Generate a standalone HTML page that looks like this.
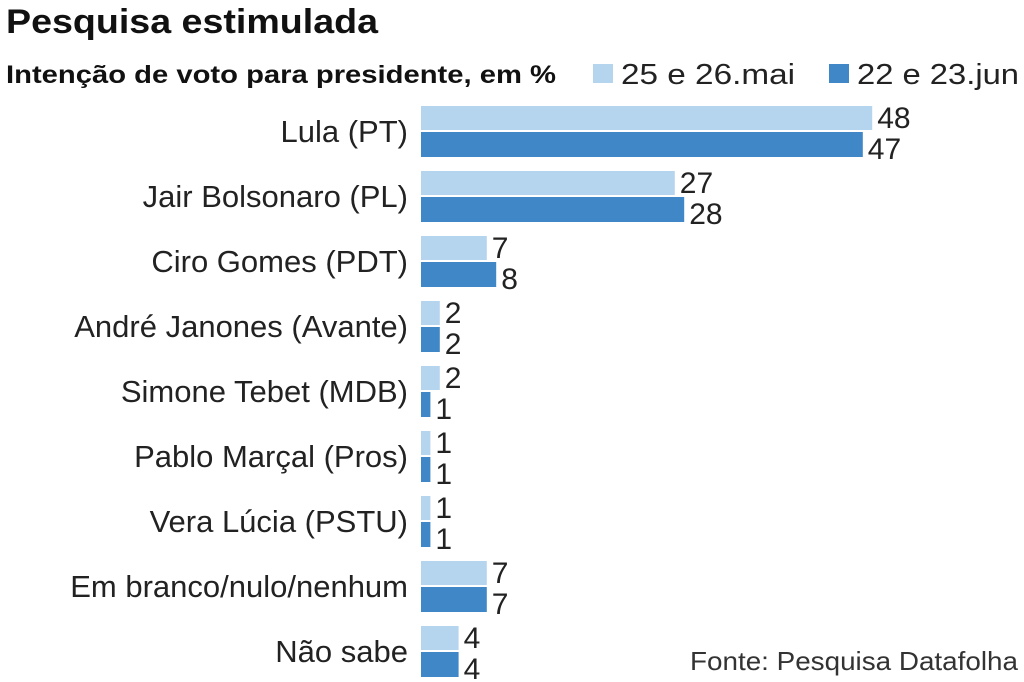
<!DOCTYPE html>
<html><head><meta charset="utf-8"><style>
body{margin:0;background:#fff;font-family:"Liberation Sans",sans-serif;}
svg{display:block}
</style></head><body>
<svg width="1024" height="682">
<text x="6" y="33" font-size="34" font-weight="bold" fill="#111" textLength="372" lengthAdjust="spacingAndGlyphs">Pesquisa estimulada</text>
<text x="6" y="83" font-size="25" font-weight="bold" fill="#111" textLength="550" lengthAdjust="spacingAndGlyphs">Intenção de voto para presidente, em %</text>
<rect x="593" y="64" width="20" height="19" fill="#b5d5ef"/>
<text x="621" y="84" font-size="29" fill="#222" textLength="174" lengthAdjust="spacingAndGlyphs">25 e 26.mai</text>
<rect x="829" y="64" width="20" height="19" fill="#3f87c7"/>
<text x="857" y="84" font-size="29" fill="#222" textLength="162" lengthAdjust="spacingAndGlyphs">22 e 23.jun</text>
<g id="bars"></g>
<text x="690" y="670" font-size="26" fill="#333" textLength="328" lengthAdjust="spacingAndGlyphs">Fonte: Pesquisa Datafolha</text>
</svg>
<script>
const categories=["Lula (PT)","Jair Bolsonaro (PL)","Ciro Gomes (PDT)","André Janones (Avante)","Simone Tebet (MDB)","Pablo Marçal (Pros)","Vera Lúcia (PSTU)","Em branco/nulo/nenhum","Não sabe"];
const maiValues=[48,27,7,2,2,1,1,7,4];
const junValues=[47,28,8,2,1,1,1,7,4];
const x0=421, scale=9.4, y0=106, pitch=65, bh=24;
const xs=v=>v*scale;
const g=document.getElementById('bars');
const NS='http://www.w3.org/2000/svg';
function mk(t,a){const e=document.createElementNS(NS,t);for(const k in a)e.setAttribute(k,a[k]);return e;}
categories.forEach((c,i)=>{
  const y=y0+i*pitch;
  const lab=mk('text',{x:408,y:y+36,'font-size':31,fill:'#222','text-anchor':'end'});
  lab.textContent=c;
  
  
  g.appendChild(lab);
  [[maiValues[i],'#b5d5ef',y,'bar-mai'],[junValues[i],'#3f87c7',y+26,'bar-jun']].forEach(([v,col,yy,nm])=>{
    const r=mk('rect',{x:x0,y:yy,width:xs(v),height:bh+(nm==='bar-jun'?1:0),fill:col});
    
    
    g.appendChild(r);
    const t=mk('text',{x:x0+xs(v)+5,y:yy+(nm==='bar-mai'?22:27),'font-size':30,fill:'#222'});
    t.textContent=v;
    
    
    g.appendChild(t);
  });
});
</script>
</body></html>
